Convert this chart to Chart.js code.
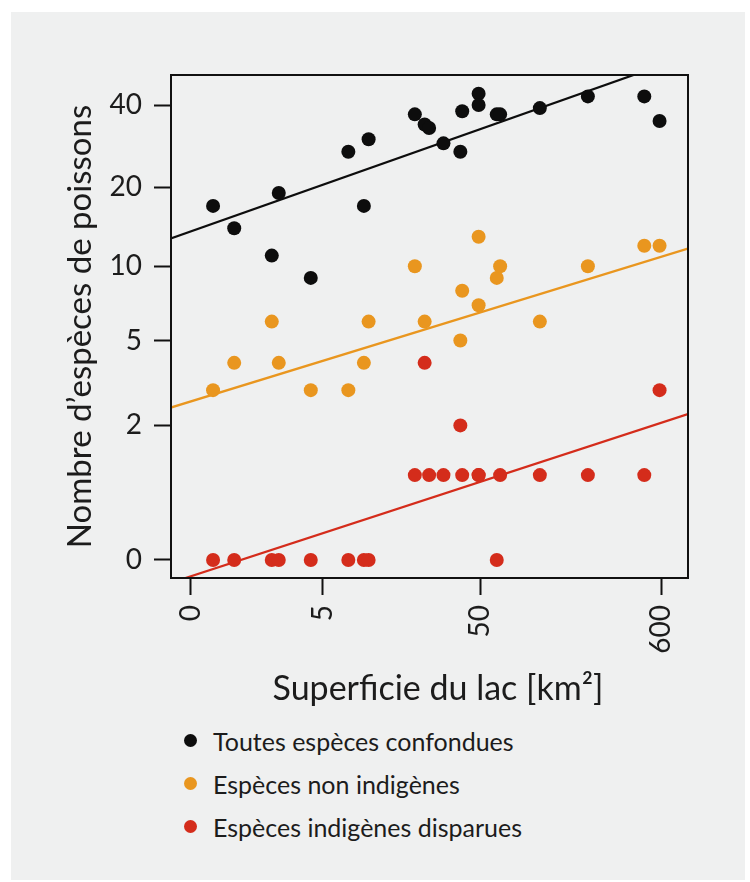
<!DOCTYPE html>
<html lang="fr">
<head>
<meta charset="utf-8">
<title>Espèces de poissons et superficie du lac</title>
<script src="https://cdn.jsdelivr.net/npm/chart.js@4.4.1/dist/chart.umd.min.js"></script>
<style>
  html, body { margin: 0; padding: 0; background: #fff; }
  body { width: 750px; height: 882px; position: relative; overflow: hidden; font-family: Lato, sans-serif; }
  .panel { position: absolute; left: 11px; top: 12px; width: 734px; height: 868px; background: #eff0f0; }
  #chart { position: absolute; left: 0; top: 0; }
  .legend { position: absolute; left: 173px; top: 707px; list-style: none; margin: 0; padding: 0; }
  .legend li { display: flex; align-items: center; height: 43px; font-size: 25px; color: #1c1c1c; }
  .legend .dot { width: 13px; height: 13px; border-radius: 50%; margin-right: 16px; }
</style>
</head>
<body>
<div class="panel">
  <canvas id="chart" width="734" height="700"></canvas>
  <ul class="legend" id="legend"></ul>
</div>
<script>
// Superficie de chaque lac [km²] (une entrée par lac)
const superficie = [0.35, 0.8, 2.0, 2.3, 4.1, 7.5, 9.5, 10.2, 20, 23, 24.5, 30, 38, 39, 49, 49, 63, 66, 114, 220, 475, 585];

// Nombre d'espèces par lac
const toutes       = [17, 14, 11, 19, 9, 27, 17, 30, 37, 34, 33, 29, 27, 38, 44, 40, 37, 37, 39, 43, 43, 35];
const nonIndigenes = [3, 4, 6, 4, 3, 3, 4, 6, 10, 6, null, null, 5, 8, 13, 7, 9, 10, 6, 10, 12, 12];
const disparues    = [0, 0, 0, 0, 0, 0, 0, 0, 1, 4, 1, 1, 2, 1, 1, 1, 0, 1, 1, 1, 1, 3];

// Droites de régression (extrémités)
const droiteX            = [-0.24, 860];
const droiteToutes       = [12.8, 60.3];
const droiteNonIndigenes = [2.47, 11.7];
const droiteDisparues    = [-0.17, 2.29];

// Graduations
const xTicks = [0, 5, 50, 600];
const yTicks = [0, 2, 5, 10, 20, 40];

const series = ['Toutes espèces confondues', 'Espèces non indigènes', 'Espèces indigènes disparues'];
const couleurs = ['#0d0d0d', '#e9961f', '#d42c1b'];

// les deux axes sont en log(v + 1)
const lg = v => Math.log(v + 1);
const points = (xs, ys) => xs.map((x, i) => ({ x: lg(x), y: ys[i] == null ? null : lg(ys[i]) }));

const nuage = (label, ys, color) => ({
  label: label,
  data: points(superficie, ys),
  backgroundColor: color,
  borderWidth: 0,
  pointRadius: 7,
  order: 0
});

const droite = (ys, color) => ({
  label: '',
  data: points(droiteX, ys),
  showLine: true,
  borderColor: color,
  borderWidth: 2.2,
  pointRadius: 0,
  order: 1
});

const texte = '#1c1c1c';
Chart.defaults.font.family = 'Lato, sans-serif';
Chart.defaults.color = texte;

const cadre = {
  id: 'cadre',
  afterDraw(chart) {
    const { ctx, chartArea: a } = chart;
    ctx.save();
    ctx.strokeStyle = '#111';
    ctx.lineWidth = 2;
    ctx.strokeRect(a.left, a.top, a.right - a.left, a.bottom - a.top);
    ctx.restore();
  }
};

const axe = {
  grid: { drawOnChartArea: false, tickLength: 17, tickColor: '#111', tickWidth: 2 },
  border: { color: '#111', width: 2 }
};

const ctx = document.getElementById('chart').getContext('2d');
const chart = new Chart(ctx, {
  type: 'scatter',
  data: {
    datasets: [
      nuage(series[0], toutes, couleurs[0]),
      nuage(series[1], nonIndigenes, couleurs[1]),
      nuage(series[2], disparues, couleurs[2]),
      droite(droiteToutes, couleurs[0]),
      droite(droiteNonIndigenes, couleurs[1]),
      droite(droiteDisparues, couleurs[2])
    ]
  },
  options: {
    responsive: false,
    animation: false,
    layout: { padding: { left: 48, top: 63, right: 57, bottom: 0 } },
    plugins: {
      legend: { display: false },
      tooltip: { enabled: false }
    },
    scales: {
      x: {
        ...axe,
        type: 'linear',
        min: -0.272,
        max: 6.76,
        afterBuildTicks: s => { s.ticks = xTicks.map(v => ({ value: lg(v) })); },
        afterFit: s => { s.height = 134; },
        ticks: {
          callback: v => Math.round(Math.exp(v) - 1),
          autoSkip: false,
          minRotation: 90,
          maxRotation: 90,
          padding: 10,
          font: { size: 28 }
        },
        title: { display: true, text: '\u2002Superficie du lac [km²]', font: { size: 34 }, padding: { top: 0, bottom: 3 } }
      },
      y: {
        ...axe,
        type: 'linear',
        min: -0.147,
        max: 3.959,
        afterBuildTicks: s => { s.ticks = yTicks.map(v => ({ value: lg(v) })); },
        afterFit: s => { s.width = 112; },
        ticks: {
          callback: v => Math.round(Math.exp(v) - 1),
          autoSkip: false,
          padding: 12,
          font: { size: 28 }
        },
        title: { display: true, text: 'Nombre d’espèces de poissons', font: { size: 33 }, padding: { top: 2, bottom: 0 } }
      }
    }
  },
  plugins: [cadre]
});

// Légende
const legend = document.getElementById('legend');
series.forEach((nom, i) => {
  const li = document.createElement('li');
  const dot = document.createElement('span');
  dot.className = 'dot';
  dot.style.background = couleurs[i];
  li.appendChild(dot);
  li.appendChild(document.createTextNode(nom));
  legend.appendChild(li);
});
</script>
</body>
</html>
